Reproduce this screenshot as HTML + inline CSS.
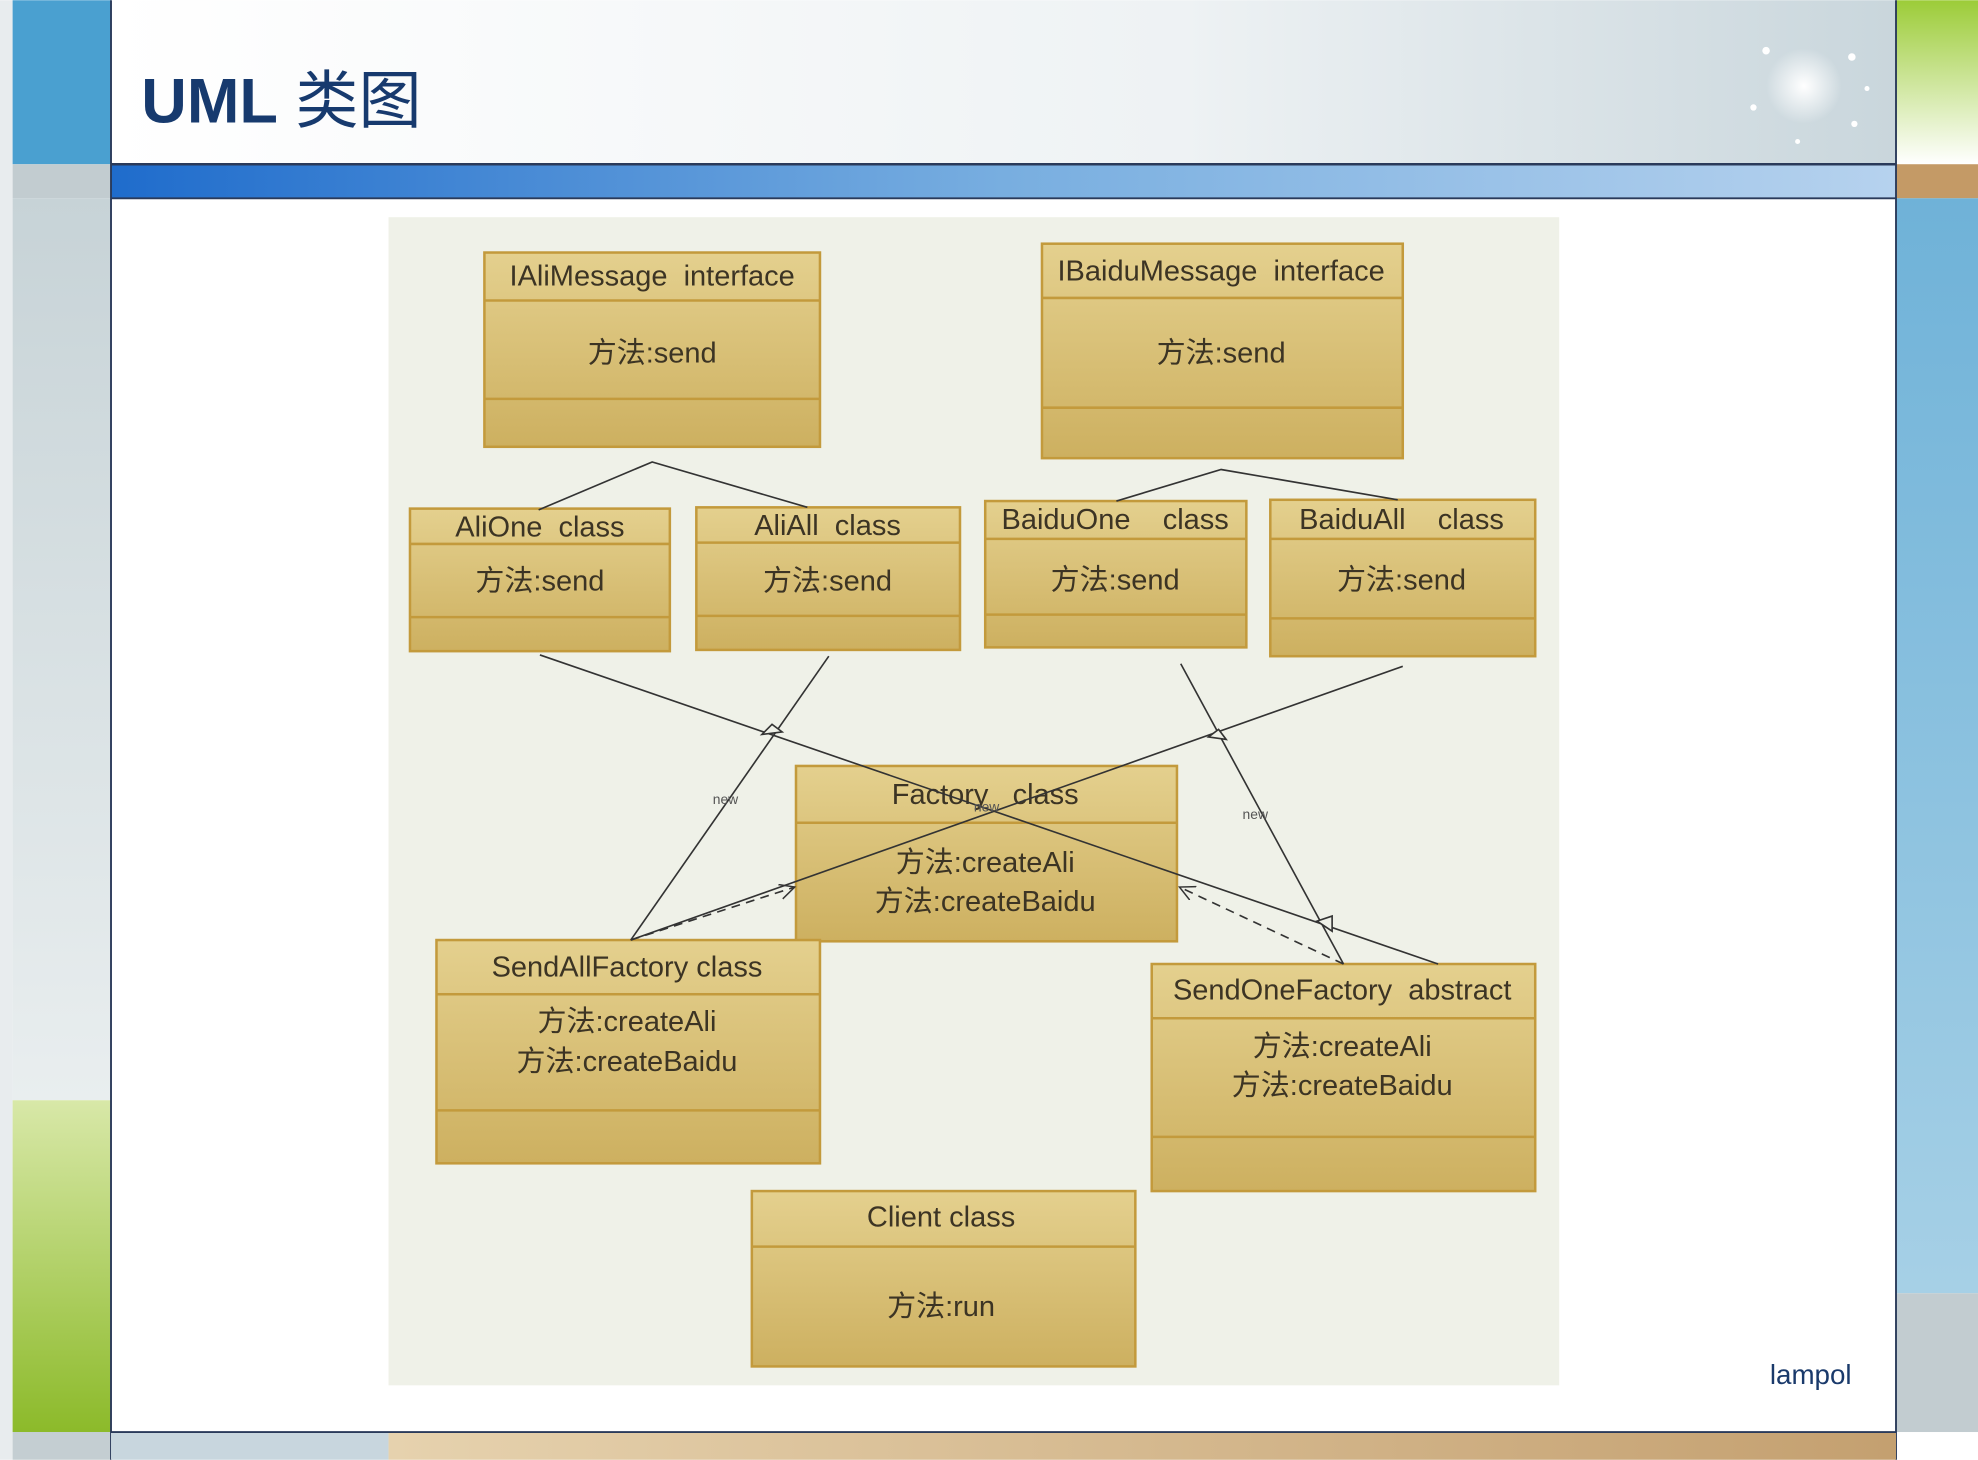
<!DOCTYPE html>
<html><head><meta charset="utf-8"><style>
html,body{margin:0;padding:0;background:#fff;}
svg{display:block;}
text{font-family:"Liberation Sans","Noto Sans CJK SC",sans-serif;white-space:pre;}
</style></head><body>
<svg width="1978" height="1460" viewBox="0 0 1568 1157" xmlns="http://www.w3.org/2000/svg" xml:space="preserve">
<defs>
<linearGradient id="hdr" x1="0" y1="0" x2="1" y2="0"><stop offset="0" stop-color="#ffffff"/><stop offset="0.6" stop-color="#eef2f4"/><stop offset="1" stop-color="#c9d6dc"/></linearGradient>
<linearGradient id="bar" x1="0" y1="0" x2="1" y2="0"><stop offset="0" stop-color="#1f6ccc"/><stop offset="0.5" stop-color="#78aee0"/><stop offset="1" stop-color="#b6d2ee"/></linearGradient>
<linearGradient id="lgrey" x1="0" y1="0" x2="0" y2="1"><stop offset="0" stop-color="#c7d3d7"/><stop offset="1" stop-color="#e9eeef"/></linearGradient>
<linearGradient id="lgreen" x1="0" y1="0" x2="0" y2="1"><stop offset="0" stop-color="#d8e8a8"/><stop offset="1" stop-color="#8cba2a"/></linearGradient>
<linearGradient id="rgreen" x1="0" y1="0" x2="0" y2="1"><stop offset="0" stop-color="#9ccc38"/><stop offset="1" stop-color="#ffffff"/></linearGradient>
<linearGradient id="rblue" x1="0" y1="0" x2="0" y2="1"><stop offset="0" stop-color="#6fb2d8"/><stop offset="1" stop-color="#a6d0e6"/></linearGradient>
<linearGradient id="tan" x1="0" y1="0" x2="1" y2="0"><stop offset="0" stop-color="#e6d2ae"/><stop offset="1" stop-color="#c4a070"/></linearGradient>
<linearGradient id="box" x1="0" y1="0" x2="0" y2="1"><stop offset="0" stop-color="#e4d08e"/><stop offset="1" stop-color="#cdb060"/></linearGradient>
<radialGradient id="glow"><stop offset="0" stop-color="#fff" stop-opacity="1"/><stop offset="1" stop-color="#fff" stop-opacity="0"/></radialGradient>
<marker id="oa" markerWidth="14" markerHeight="14" refX="12" refY="6" orient="auto" markerUnits="userSpaceOnUse"><path d="M0,0 L12,6 L0,12" fill="none" stroke="#333" stroke-width="1.2"/></marker>
</defs>
<rect x="0" y="0" width="1568" height="1157" fill="#fff"/>
<rect x="0" y="0" width="10" height="1157" fill="#e8ecee"/>
<rect x="10" y="0" width="78" height="130" fill="#4aa0d0"/>
<rect x="10" y="130" width="78" height="27" fill="#c2ccd0"/>
<rect x="10" y="157" width="78" height="715" fill="url(#lgrey)"/>
<rect x="10" y="872" width="78" height="263" fill="url(#lgreen)"/>
<rect x="10" y="1135" width="78" height="22" fill="#c4ced2"/>
<rect x="88" y="0" width="1415" height="130" fill="url(#hdr)"/>
<rect x="88" y="130" width="1415" height="27" fill="url(#bar)"/>
<line x1="88" y1="130" x2="1503" y2="130" stroke="#2a3a5a" stroke-width="2"/>
<line x1="88" y1="157" x2="1503" y2="157" stroke="#2a3a5a" stroke-width="1.5"/>
<rect x="1503" y="0" width="65" height="130" fill="url(#rgreen)"/>
<rect x="1503" y="130" width="65" height="27" fill="#c49a66"/>
<rect x="1503" y="157" width="65" height="868" fill="url(#rblue)"/>
<rect x="1503" y="1025" width="65" height="110" fill="#c2ccd0"/>
<line x1="88" y1="0" x2="88" y2="1157" stroke="#2a3a5a" stroke-width="1.5"/>
<line x1="1503" y1="0" x2="1503" y2="1157" stroke="#2a3a5a" stroke-width="1.5"/>
<rect x="88" y="1135" width="220" height="22" fill="#c8d6de"/>
<rect x="308" y="1135" width="1195" height="22" fill="url(#tan)"/>
<line x1="88" y1="1135" x2="1503" y2="1135" stroke="#2a3a5a" stroke-width="1.5"/>
<circle cx="1430" cy="68" r="30" fill="url(#glow)"/>
<g fill="#fff"><circle cx="1400" cy="40" r="3"/><circle cx="1468" cy="45" r="3"/><circle cx="1390" cy="85" r="2.5"/><circle cx="1470" cy="98" r="2.5"/><circle cx="1425" cy="112" r="2"/><circle cx="1480" cy="70" r="2"/></g>
<text x="112" y="97" font-size="50" fill="#173a6e"><tspan font-weight="bold">UML</tspan> <tspan font-weight="normal">类图</tspan></text>
<text x="1403" y="1097" font-size="22" fill="#1a3a6b">lampol</text>
<rect x="308" y="172" width="928" height="926" fill="#eff1e8"/>
<g stroke="#c39a3c" stroke-width="2" fill="url(#box)">
<rect x="384" y="200" width="266" height="154"/><line x1="384" y1="238" x2="650" y2="238"/><line x1="384" y1="316" x2="650" y2="316"/>
<rect x="826" y="193" width="286" height="170"/><line x1="826" y1="236" x2="1112" y2="236"/><line x1="826" y1="323" x2="1112" y2="323"/>
<rect x="325" y="403" width="206" height="113"/><line x1="325" y1="431" x2="531" y2="431"/><line x1="325" y1="489" x2="531" y2="489"/>
<rect x="552" y="402" width="209" height="113"/><line x1="552" y1="430" x2="761" y2="430"/><line x1="552" y1="488" x2="761" y2="488"/>
<rect x="781" y="397" width="207" height="116"/><line x1="781" y1="427" x2="988" y2="427"/><line x1="781" y1="487" x2="988" y2="487"/>
<rect x="1007" y="396" width="210" height="124"/><line x1="1007" y1="427" x2="1217" y2="427"/><line x1="1007" y1="490" x2="1217" y2="490"/>
<rect x="631" y="607" width="302" height="139"/><line x1="631" y1="652" x2="933" y2="652"/>
<rect x="346" y="745" width="304" height="177"/><line x1="346" y1="788" x2="650" y2="788"/><line x1="346" y1="880" x2="650" y2="880"/>
<rect x="913" y="764" width="304" height="180"/><line x1="913" y1="807" x2="1217" y2="807"/><line x1="913" y1="901" x2="1217" y2="901"/>
<rect x="596" y="944" width="304" height="139"/><line x1="596" y1="988" x2="900" y2="988"/>
</g>
<g font-size="23" fill="#3c3424" text-anchor="middle">
<text x="517" y="226">IAliMessage  interface</text><text x="517" y="287">方法:send</text>
<text x="968" y="222">IBaiduMessage  interface</text><text x="968" y="287">方法:send</text>
<text x="428" y="425">AliOne  class</text><text x="428" y="468">方法:send</text>
<text x="656" y="424">AliAll  class</text><text x="656" y="468">方法:send</text>
<text x="884" y="419">BaiduOne    class</text><text x="884" y="467">方法:send</text>
<text x="1111" y="419">BaiduAll    class</text><text x="1111" y="467">方法:send</text>
<text x="781" y="637">Factory   class</text><text x="781" y="691">方法:createAli</text><text x="781" y="722">方法:createBaidu</text>
<text x="497" y="774">SendAllFactory class</text><text x="497" y="817">方法:createAli</text><text x="497" y="849">方法:createBaidu</text>
<text x="1064" y="792">SendOneFactory  abstract</text><text x="1064" y="837">方法:createAli</text><text x="1064" y="868">方法:createBaidu</text>
<text x="746" y="972">Client class</text><text x="746" y="1043">方法:run</text>
</g>
<g stroke="#333" stroke-width="1.3" fill="none">
<polyline points="427,404 517,366 640,402"/>
<polyline points="885,397 968,372 1108,396"/>
<line x1="428" y1="519" x2="1140" y2="764"/>
<line x1="1112" y1="528" x2="500" y2="745"/>
<line x1="657" y1="520" x2="500" y2="745"/>
<line x1="936" y1="526" x2="1065" y2="764"/>
<path d="M604,582 L612,574 L620,580 Z" fill="#eff1e8"/>
<path d="M958,584 L966,578 L972,586 Z" fill="#eff1e8"/>
<path d="M1044,730 L1056,726 L1056,738 Z" fill="#eff1e8"/>
<line x1="500" y1="745" x2="630" y2="703" stroke-dasharray="7,5" marker-end="url(#oa)"/>
<line x1="1065" y1="764" x2="935" y2="703" stroke-dasharray="7,5" marker-end="url(#oa)"/>
</g>
<g font-size="11" fill="#555">
<text x="565" y="637">new</text><text x="985" y="649">new</text><text x="772" y="643">new</text>
</g>
</svg>
</body></html>
